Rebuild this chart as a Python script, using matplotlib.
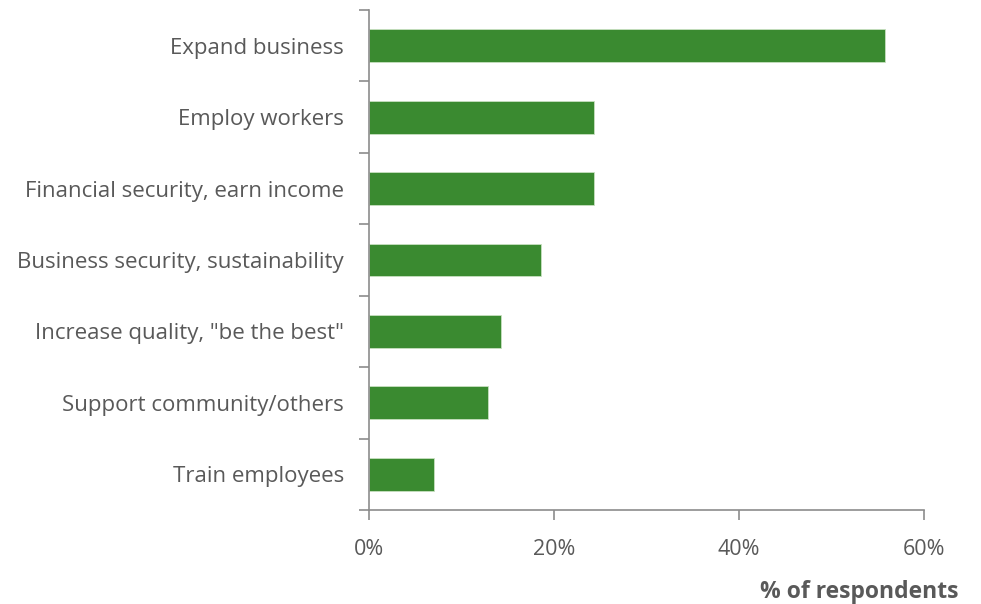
import numpy as np
import matplotlib
matplotlib.use("Agg")
import matplotlib.pyplot as plt

categories = ["Expand business", "Employ workers", "Financial security, earn income",
              "Business security, sustainability", "Increase quality, \"be the best\"",
              "Support community/others", "Train employees"]
values = [55.8, 24.3, 24.3, 18.6, 14.3, 12.9, 7.0]
xticks = [0, 20, 40, 60]

GREEN = "#3a8a30"
GREY = "#595959"
AXC = "#8c8c8c"

plt.rcParams["font.family"] = ["Open Sans", "DejaVu Sans"]

fig = plt.figure(figsize=(9.81, 6.04), dpi=100)
ax = fig.add_axes([0.376, 0.1556, 0.566, 0.828])

y = np.arange(len(categories))
ax.barh(y, values, height=0.46, color=GREEN, edgecolor="#c8e0c0", linewidth=0.6)
ax.set_ylim(len(categories) - 0.5, -0.5)
ax.set_xlim(0, 60)

# category labels at bar centres, ticks drawn at category boundaries
ax.set_yticks(y)
ax.set_yticklabels(categories, fontsize=16, color=GREY)
ax.tick_params(axis="y", which="major", length=0, pad=18)
ax.set_yticks(np.arange(len(categories) + 1) - 0.5, minor=True)
ax.tick_params(axis="y", which="minor", length=7, width=1.2, color=AXC, direction="out")

ax.set_xticks(xticks)
ax.set_xticklabels([f"{t}%" for t in xticks], fontsize=15.5, color=GREY)
ax.tick_params(axis="x", length=7, width=1.2, color=AXC, direction="out", pad=14)

for s in ["top", "right"]:
    ax.spines[s].set_visible(False)
for s in ["left", "bottom"]:
    ax.spines[s].set_color(AXC)
    ax.spines[s].set_linewidth(1.2)

fig.text(958 / 981, 1 - 592 / 604, "% of respondents", ha="right", va="center",
         fontsize=16.5, fontweight="bold", color=GREY)

fig.savefig("out.png", dpi=100, facecolor="white")
